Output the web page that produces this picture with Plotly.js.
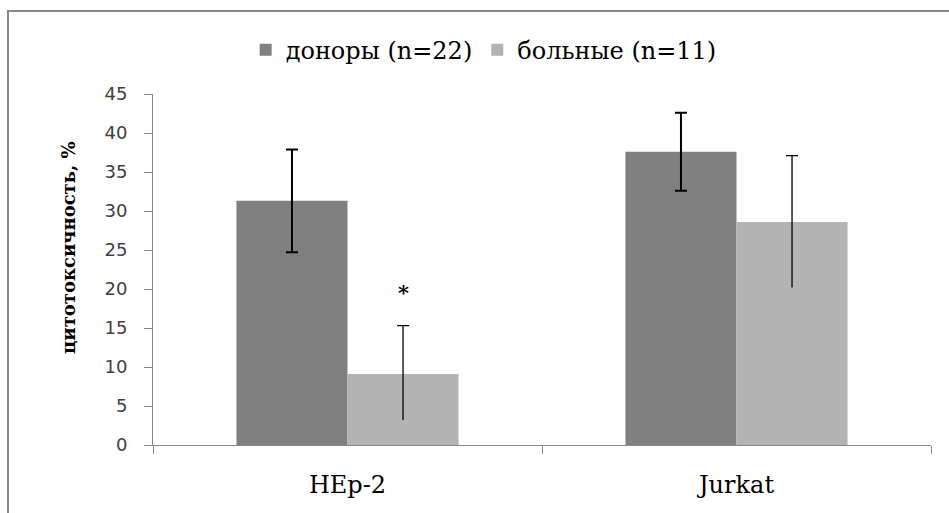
<!DOCTYPE html>
<html><head><meta charset="utf-8">
<script src="https://cdn.plot.ly/plotly-3.0.1.min.js"></script>
<style>
html,body{margin:0;padding:0;background:#fff;overflow:hidden;}
#wrap{position:absolute;left:0;top:0;width:949px;height:513px;overflow:hidden;background:#fff;}
#chart{position:absolute;left:0;top:0;width:949px;height:513px;}
#frame{position:absolute;left:7px;top:10px;width:1000px;height:600px;border-left:2px solid #878787;border-top:2px solid #878787;pointer-events:none;}
</style></head><body>
<div id="wrap"><div id="chart"></div><div id="frame"></div></div>
<script>
const categories = ['HEp-2', 'Jurkat'];
const seriesNames = ['доноры (n=22)', 'больные (n=11)'];
const donors = [31.3, 37.6];
const donorsErr = [6.6, 5.0];
const patients = [9.1, 28.6];
const patientsErrPlus = [6.2, 8.5];
const patientsErrMinus = [5.9, 8.4];
const marks = ['*', ''];
const yTickVals = [0, 5, 10, 15, 20, 25, 30, 35, 40, 45];
const yTitle = 'цитотоксичность, %';

const serif = 'DejaVu Serif';
const bargap = 0.429;

const traces = [
  {
    type: 'bar', name: seriesNames[0], x: categories, y: donors, offsetgroup: 'd',
    marker: {color: '#808080'},
    error_y: {type: 'data', array: donorsErr, visible: true, color: '#000', thickness: 2, width: 6}
  },
  {
    type: 'bar', name: seriesNames[1], x: categories, y: patients, offsetgroup: 'p',
    marker: {color: '#b3b3b3'},
    error_y: {type: 'data', symmetric: false, array: patientsErrPlus, arrayminus: patientsErrMinus, visible: true, color: '#000', thickness: 1.3, width: 0}
  },
  {
    type: 'bar', name: 'cap', x: categories, y: patients.map((v, i) => v + patientsErrPlus[i]), offsetgroup: 'p',
    marker: {color: 'rgba(0,0,0,0)'}, showlegend: false, hoverinfo: 'skip',
    error_y: {type: 'data', array: categories.map(() => 0), visible: true, color: '#000', thickness: 1.3, width: 6}
  }
];

const annotations = marks.map((m, i) => ({
  x: i + (1 - bargap) / 4, y: patients[i] + patientsErrPlus[i] + 4.3, xref: 'x', yref: 'y',
  text: m, showarrow: false, font: {family: serif, size: 21, color: '#000', weight: 'bold'}
})).filter(a => a.text);

annotations.push({
  text: yTitle, textangle: -90, showarrow: false,
  xref: 'paper', yref: 'paper', x: -0.1093, y: 0.564, xanchor: 'center', yanchor: 'middle',
  font: {family: serif, size: 18, color: '#000', weight: 'bold'}
});

const layout = {
  width: 949, height: 513,
  margin: {l: 153, r: 18, t: 94, b: 68},
  paper_bgcolor: '#fff', plot_bgcolor: '#fff',
  barmode: 'group', bargap: bargap, bargroupgap: 0,
  showlegend: true,
  legend: {orientation: 'h', x: 0.425, xanchor: 'center', y: 1.125, yanchor: 'middle',
    font: {family: serif, size: 24, color: '#000'}, itemwidth: 30, traceorder: 'normal'},
  xaxis: {
    type: 'category', showline: true, linecolor: '#868686', linewidth: 1,
    ticks: 'outside', tickson: 'boundaries', ticklen: 8, tickcolor: '#868686', tickwidth: 1,
    showgrid: false, zeroline: false, ticklabelstandoff: 18,
    tickfont: {family: serif, size: 24, color: '#000'}
  },
  yaxis: {
    range: [0, 45], tickvals: yTickVals, showline: true, linecolor: '#868686', linewidth: 1,
    ticks: 'outside', ticklen: 8, tickcolor: '#868686', tickwidth: 1,
    showgrid: false, zeroline: false, ticklabelstandoff: 13,
    tickfont: {family: 'DejaVu Sans', size: 18, color: '#404040'}
  },
  annotations: annotations
};

Plotly.newPlot('chart', traces, layout, {staticPlot: true, displayModeBar: false});
</script>
</body></html>
